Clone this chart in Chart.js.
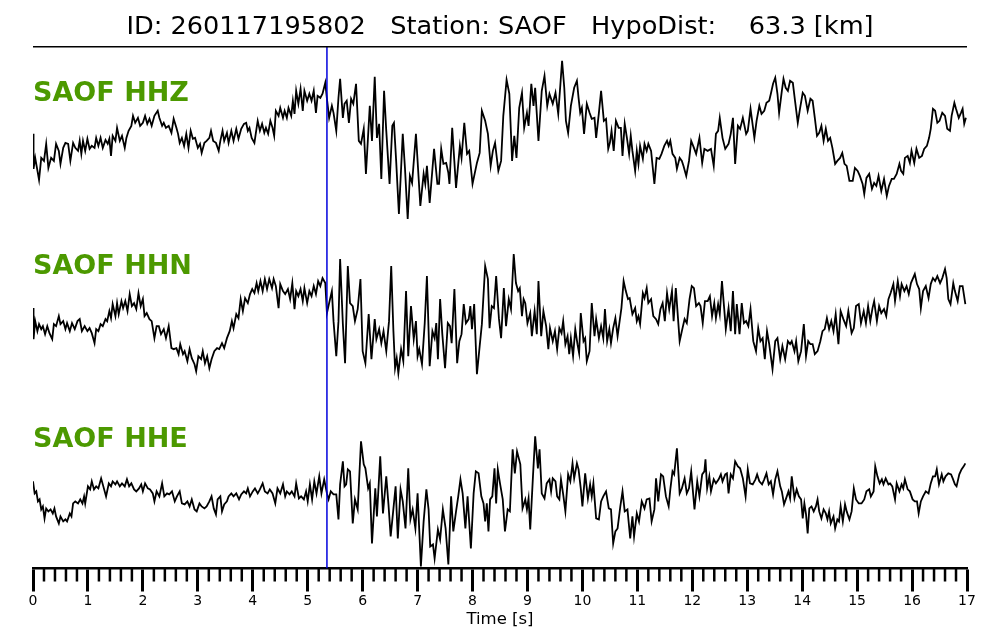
<!DOCTYPE html>
<html lang="en">
<head>
  <meta charset="UTF-8" />
  <title>SAOF waveforms</title>
  <script src="https://cdn.jsdelivr.net/npm/chart.js"></script>
  <style>
    body { margin: 0; background: #fff; }
  </style>
</head>
<body>
  <canvas id="seis" width="1000" height="640"></canvas>

  <script>
    // waveform samples: [time (s), amplitude]
    const hhz = [[0,7],[0.01,-28],[0.04,-17],[0.11,-39],[0.15,-17],[0.2,-20],[0.24,-3],[0.28,-27],[0.33,-17],[0.38,-20],[0.42,-3],[0.47,-10],[0.5,-23],[0.55,-7],[0.59,-2],[0.64,-3],[0.68,-20],[0.73,-2],[0.77,-7],[0.82,-10],[0.85,0],[0.88,-13],[0.91,0],[0.95,-10],[0.99,2],[1.03,-8],[1.07,-5],[1.12,-7],[1.15,3],[1.19,-5],[1.23,3],[1.27,-7],[1.32,1],[1.36,-3],[1.39,2],[1.42,-15],[1.45,5],[1.5,0],[1.53,13],[1.58,0],[1.62,5],[1.67,-7],[1.7,3],[1.74,10],[1.79,15],[1.82,25],[1.86,18],[1.91,23],[1.95,15],[2,18],[2.04,25],[2.08,17],[2.12,22],[2.16,15],[2.21,25],[2.27,30],[2.3,23],[2.35,15],[2.38,18],[2.42,13],[2.47,15],[2.52,8],[2.56,22],[2.61,13],[2.64,7],[2.67,-2],[2.71,3],[2.75,-5],[2.79,7],[2.83,-7],[2.87,10],[2.91,2],[2.95,3],[3,-7],[3.04,-3],[3.07,-12],[3.12,-2],[3.16,0],[3.21,3],[3.24,10],[3.28,0],[3.33,-2],[3.38,-10],[3.41,0],[3.45,10],[3.48,0],[3.53,8],[3.56,-2],[3.61,10],[3.65,0],[3.7,12],[3.74,2],[3.79,12],[3.84,17],[3.88,18],[3.91,10],[3.94,13],[3.98,3],[4.03,-2],[4.07,13],[4.09,20],[4.13,10],[4.17,17],[4.21,8],[4.24,13],[4.28,7],[4.32,20],[4.36,13],[4.39,5],[4.42,30],[4.47,25],[4.5,33],[4.55,23],[4.58,30],[4.62,23],[4.65,33],[4.7,25],[4.73,40],[4.76,27],[4.79,50],[4.83,37],[4.87,52],[4.91,30],[4.94,50],[4.99,40],[5.03,47],[5.07,40],[5.11,50],[5.15,28],[5.18,45],[5.23,43],[5.27,47],[5.32,58],[5.35,42],[5.39,23],[5.44,35],[5.47,28],[5.52,10],[5.56,43],[5.59,62],[5.64,23],[5.67,37],[5.71,40],[5.75,18],[5.79,42],[5.83,37],[5.88,57],[5.93,0],[5.97,-3],[6.02,12],[6.06,-33],[6.13,35],[6.17,0],[6.22,64],[6.26,3],[6.3,17],[6.34,-38],[6.39,50],[6.43,10],[6.49,-43],[6.54,15],[6.57,18],[6.61,-20],[6.66,-73],[6.73,7],[6.77,-27],[6.82,-78],[6.86,-35],[6.9,-42],[6.97,7],[7.05,-65],[7.11,-33],[7.14,-43],[7.17,-25],[7.22,-62],[7.3,-8],[7.36,-43],[7.39,-43],[7.43,-8],[7.47,-23],[7.52,-22],[7.56,-32],[7.58,-43],[7.63,13],[7.7,-47],[7.77,-5],[7.8,-17],[7.85,18],[7.9,-13],[7.94,-10],[8,-43],[8.08,-22],[8.13,-12],[8.17,30],[8.23,20],[8.28,7],[8.33,-25],[8.37,-10],[8.41,-2],[8.47,-30],[8.52,-20],[8.56,25],[8.62,61],[8.67,47],[8.72,-20],[8.76,5],[8.8,-17],[8.85,33],[8.9,48],[8.94,13],[8.99,28],[9.02,15],[9.07,57],[9.11,35],[9.14,53],[9.2,0],[9.26,50],[9.31,65],[9.36,35],[9.4,47],[9.46,37],[9.51,48],[9.56,27],[9.6,57],[9.63,80],[9.67,53],[9.7,20],[9.74,8],[9.79,35],[9.85,53],[9.9,60],[9.93,43],[9.96,28],[9.99,33],[10.03,7],[10.08,37],[10.13,28],[10.17,22],[10.22,23],[10.25,3],[10.3,28],[10.34,50],[10.39,20],[10.43,22],[10.47,-8],[10.5,-2],[10.53,10],[10.57,-10],[10.61,20],[10.66,13],[10.7,13],[10.73,-15],[10.77,17],[10.81,3],[10.85,-13],[10.88,5],[10.91,-10],[10.96,-30],[10.99,-10],[11.02,-23],[11.05,-5],[11.1,-18],[11.13,-3],[11.17,-10],[11.2,-3],[11.25,-10],[11.31,-43],[11.35,-17],[11.4,-18],[11.44,-13],[11.49,-5],[11.54,0],[11.57,-5],[11.6,0],[11.64,-13],[11.69,-17],[11.72,-28],[11.77,-17],[11.81,-20],[11.84,-25],[11.89,-35],[11.94,-20],[11.98,0],[12.03,-7],[12.07,-13],[12.13,3],[12.18,-22],[12.22,-8],[12.28,-10],[12.34,-8],[12.39,-25],[12.43,7],[12.47,10],[12.5,23],[12.55,3],[12.6,-8],[12.66,-3],[12.7,7],[12.74,23],[12.78,-23],[12.83,15],[12.87,12],[12.92,23],[12.98,7],[13.01,10],[13.06,32],[13.13,3],[13.17,20],[13.22,35],[13.26,27],[13.31,30],[13.35,38],[13.4,40],[13.43,47],[13.47,57],[13.51,63],[13.55,47],[13.58,28],[13.63,50],[13.66,62],[13.7,53],[13.74,50],[13.78,60],[13.83,58],[13.87,40],[13.92,18],[13.96,32],[14.01,48],[14.05,45],[14.1,30],[14.15,42],[14.19,40],[14.23,23],[14.27,5],[14.31,8],[14.35,15],[14.39,0],[14.43,12],[14.47,0],[14.51,3],[14.55,-7],[14.6,-23],[14.64,-20],[14.69,-17],[14.73,-12],[14.77,-23],[14.81,-25],[14.86,-40],[14.92,-40],[14.96,-27],[15.01,-30],[15.05,-35],[15.1,-43],[15.13,-53],[15.17,-37],[15.22,-33],[15.27,-48],[15.31,-42],[15.35,-45],[15.39,-35],[15.44,-50],[15.49,-38],[15.54,-55],[15.58,-45],[15.63,-38],[15.67,-38],[15.72,-33],[15.77,-23],[15.8,-30],[15.84,-33],[15.87,-17],[15.92,-15],[15.96,-22],[15.99,-10],[16.04,-22],[16.08,-8],[16.13,-17],[16.18,-15],[16.22,-8],[16.27,-5],[16.31,3],[16.34,12],[16.38,32],[16.42,30],[16.46,18],[16.5,20],[16.55,28],[16.6,25],[16.64,12],[16.69,10],[16.72,25],[16.77,38],[16.8,32],[16.85,23],[16.89,28],[16.92,32],[16.95,17],[16.98,23]];

    const hhn = [[0,6],[0.01,-25],[0.04,-7],[0.08,-17],[0.11,-10],[0.15,-15],[0.18,-12],[0.22,-20],[0.26,-12],[0.3,-19],[0.35,-25],[0.38,-10],[0.42,-12],[0.47,-2],[0.5,-10],[0.55,-7],[0.59,-15],[0.62,-9],[0.67,-17],[0.71,-9],[0.76,-15],[0.81,-7],[0.85,-5],[0.89,-17],[0.94,-12],[0.99,-17],[1.03,-14],[1.07,-19],[1.12,-29],[1.15,-15],[1.19,-17],[1.23,-10],[1.27,-12],[1.32,-5],[1.35,-7],[1.39,3],[1.42,-4],[1.45,10],[1.5,-2],[1.53,11],[1.56,0],[1.61,13],[1.64,6],[1.68,13],[1.72,3],[1.76,20],[1.8,8],[1.84,11],[1.88,5],[1.92,21],[1.96,8],[2,15],[2.03,-2],[2.07,1],[2.12,-5],[2.16,-7],[2.21,-24],[2.25,-12],[2.29,-12],[2.33,-20],[2.38,-15],[2.42,-24],[2.47,-12],[2.52,-34],[2.56,-35],[2.61,-34],[2.65,-40],[2.68,-30],[2.73,-40],[2.76,-37],[2.81,-47],[2.85,-35],[2.89,-44],[2.94,-50],[2.97,-57],[3.01,-42],[3.06,-45],[3.09,-37],[3.13,-49],[3.17,-42],[3.21,-54],[3.25,-45],[3.3,-37],[3.35,-34],[3.39,-35],[3.44,-29],[3.48,-34],[3.53,-24],[3.58,-17],[3.62,-7],[3.65,-14],[3.7,0],[3.74,-4],[3.78,15],[3.82,3],[3.86,16],[3.91,11],[3.95,20],[3.99,25],[4.03,21],[4.07,31],[4.1,23],[4.14,33],[4.18,23],[4.22,35],[4.26,25],[4.3,35],[4.35,26],[4.38,35],[4.42,28],[4.47,6],[4.5,30],[4.55,23],[4.59,20],[4.64,25],[4.68,15],[4.72,31],[4.76,5],[4.79,23],[4.83,18],[4.87,25],[4.91,13],[4.94,26],[4.99,11],[5.03,23],[5.07,18],[5.11,28],[5.15,20],[5.19,33],[5.23,28],[5.27,36],[5.32,31],[5.35,1],[5.39,11],[5.44,23],[5.47,-7],[5.52,-42],[5.56,-7],[5.59,55],[5.64,-10],[5.68,-49],[5.73,48],[5.77,11],[5.82,8],[5.86,-7],[5.91,5],[5.96,35],[6,-37],[6.05,-49],[6.11,0],[6.16,-45],[6.22,-5],[6.25,-25],[6.3,-15],[6.34,-29],[6.38,-17],[6.43,-37],[6.48,-7],[6.52,48],[6.56,-17],[6.59,-54],[6.62,-44],[6.65,-59],[6.7,-35],[6.74,-47],[6.79,23],[6.83,-42],[6.88,8],[6.93,-25],[6.97,-7],[7,-42],[7.03,-35],[7.08,-50],[7.13,-9],[7.17,38],[7.22,-52],[7.27,-17],[7.31,-24],[7.34,-9],[7.37,-45],[7.41,15],[7.45,-20],[7.5,-54],[7.55,-9],[7.59,-12],[7.62,-29],[7.67,25],[7.72,-49],[7.76,-27],[7.8,-20],[7.84,10],[7.88,-9],[7.93,-5],[7.96,8],[7.99,-15],[8.03,10],[8.08,-60],[8.13,-32],[8.17,-10],[8.23,48],[8.28,35],[8.31,-14],[8.35,8],[8.39,6],[8.43,38],[8.48,-4],[8.52,-24],[8.57,26],[8.61,-12],[8.66,15],[8.7,5],[8.75,60],[8.79,31],[8.83,23],[8.86,26],[8.9,-2],[8.93,15],[8.96,11],[9,-9],[9.05,1],[9.08,-22],[9.13,3],[9.17,-20],[9.2,33],[9.25,-22],[9.29,3],[9.34,-12],[9.38,-35],[9.41,-14],[9.46,-27],[9.5,-17],[9.54,-35],[9.58,-14],[9.62,-19],[9.65,-7],[9.69,-30],[9.73,-22],[9.76,-40],[9.79,-24],[9.83,-42],[9.87,-15],[9.91,-30],[9.94,-39],[9.97,1],[10.02,-27],[10.05,-24],[10.08,-47],[10.13,-37],[10.17,11],[10.22,-22],[10.25,-5],[10.3,-24],[10.34,-12],[10.38,-24],[10.41,5],[10.45,-27],[10.49,-15],[10.52,-29],[10.56,-14],[10.6,-4],[10.64,-22],[10.67,-10],[10.71,6],[10.75,33],[10.79,23],[10.83,15],[10.86,16],[10.91,0],[10.96,6],[10.99,-7],[11.02,-2],[11.05,-10],[11.1,21],[11.13,16],[11.17,26],[11.2,11],[11.25,15],[11.29,-2],[11.34,-5],[11.38,-10],[11.42,5],[11.46,11],[11.5,-7],[11.54,21],[11.58,5],[11.63,23],[11.66,-7],[11.7,26],[11.77,-27],[11.81,-17],[11.86,-5],[11.9,-9],[11.95,15],[11.99,28],[12.03,26],[12.07,8],[12.12,11],[12.15,8],[12.19,-9],[12.23,13],[12.28,13],[12.32,18],[12.36,-2],[12.4,11],[12.43,-4],[12.47,10],[12.5,0],[12.54,33],[12.58,6],[12.61,-15],[12.66,6],[12.7,-17],[12.74,23],[12.78,-20],[12.81,10],[12.86,-20],[12.9,11],[12.94,-9],[12.98,-7],[13.02,-12],[13.06,5],[13.11,-27],[13.16,-37],[13.2,-14],[13.24,-27],[13.28,-24],[13.32,-45],[13.36,-17],[13.4,-30],[13.46,-55],[13.51,-27],[13.55,-24],[13.6,-45],[13.64,-32],[13.69,-45],[13.74,-27],[13.78,-30],[13.81,-27],[13.86,-37],[13.89,-27],[13.93,-47],[13.98,-37],[14.03,-10],[14.07,-42],[14.11,-27],[14.15,-30],[14.19,-30],[14.23,-40],[14.28,-37],[14.33,-27],[14.37,-17],[14.41,-15],[14.45,-4],[14.49,-15],[14.53,-7],[14.57,-17],[14.61,0],[14.66,-30],[14.7,3],[14.75,-5],[14.8,-12],[14.84,3],[14.9,-19],[14.94,-14],[14.98,8],[15.03,10],[15.07,-9],[15.12,3],[15.16,-9],[15.2,8],[15.24,-7],[15.28,6],[15.31,13],[15.36,-7],[15.4,8],[15.44,1],[15.49,5],[15.53,-2],[15.57,15],[15.61,21],[15.66,30],[15.69,13],[15.74,33],[15.78,18],[15.81,30],[15.86,23],[15.9,28],[15.94,20],[15.98,31],[16.05,40],[16.09,30],[16.13,25],[16.16,6],[16.2,23],[16.25,28],[16.3,16],[16.34,30],[16.38,36],[16.42,33],[16.46,38],[16.51,31],[16.55,36],[16.6,45],[16.63,36],[16.66,15],[16.7,10],[16.75,31],[16.78,23],[16.83,13],[16.87,28],[16.92,28],[16.97,10]];

    const hhe = [[0,10],[0.03,-2],[0.06,0],[0.09,-10],[0.12,-8],[0.15,-18],[0.18,-15],[0.21,-27],[0.24,-17],[0.28,-20],[0.32,-18],[0.36,-22],[0.39,-17],[0.42,-25],[0.47,-32],[0.5,-25],[0.55,-30],[0.59,-28],[0.62,-30],[0.67,-22],[0.7,-25],[0.73,-12],[0.77,-10],[0.82,-12],[0.86,-8],[0.9,-12],[0.93,-5],[0.95,-12],[1,5],[1.04,2],[1.07,10],[1.11,2],[1.15,5],[1.19,3],[1.24,13],[1.28,5],[1.33,-5],[1.38,8],[1.42,5],[1.45,10],[1.5,7],[1.53,10],[1.58,5],[1.62,8],[1.67,5],[1.71,12],[1.75,5],[1.79,8],[1.84,2],[1.88,0],[1.93,3],[1.97,7],[2,0],[2.04,8],[2.09,3],[2.13,2],[2.18,-2],[2.21,-10],[2.25,0],[2.3,-5],[2.35,8],[2.39,-5],[2.44,-2],[2.48,-3],[2.53,0],[2.58,-10],[2.62,-5],[2.67,0],[2.71,-12],[2.76,-13],[2.81,-10],[2.85,-15],[2.89,-8],[2.94,-18],[2.98,-20],[3.03,-12],[3.07,-15],[3.12,-17],[3.16,-15],[3.21,-10],[3.25,-5],[3.29,-17],[3.33,-23],[3.36,-8],[3.41,-5],[3.44,-20],[3.48,-13],[3.53,-10],[3.56,-5],[3.61,-2],[3.65,-5],[3.7,-2],[3.75,-8],[3.79,-3],[3.84,0],[3.88,-2],[3.91,3],[3.95,-5],[4,0],[4.04,3],[4.09,-2],[4.13,2],[4.18,8],[4.22,0],[4.27,-2],[4.31,2],[4.36,-2],[4.41,-12],[4.45,3],[4.5,-2],[4.55,7],[4.59,-5],[4.62,0],[4.67,-3],[4.71,0],[4.76,-5],[4.79,8],[4.84,-7],[4.88,-5],[4.93,-8],[4.97,0],[5,-10],[5.04,7],[5.08,-8],[5.12,10],[5.16,-2],[5.21,15],[5.25,-2],[5.3,12],[5.35,-2],[5.38,-8],[5.42,0],[5.47,-3],[5.52,-3],[5.56,-28],[5.59,7],[5.64,30],[5.67,5],[5.7,7],[5.73,22],[5.77,20],[5.82,-32],[5.86,-8],[5.91,-18],[5.97,50],[6.02,27],[6.05,23],[6.1,3],[6.13,8],[6.17,-52],[6.23,3],[6.26,-25],[6.32,35],[6.37,-22],[6.43,15],[6.47,-13],[6.51,-45],[6.55,-23],[6.6,5],[6.64,-47],[6.69,2],[6.73,-10],[6.78,-37],[6.83,23],[6.87,-28],[6.91,-18],[6.96,-37],[7,-2],[7.06,-75],[7.11,-30],[7.16,2],[7.2,-18],[7.23,-55],[7.28,-53],[7.31,-67],[7.37,-38],[7.41,-48],[7.46,-18],[7.51,-37],[7.56,-73],[7.61,-5],[7.65,-40],[7.7,-20],[7.74,-5],[7.78,12],[7.82,-2],[7.87,-37],[7.91,-5],[7.97,-57],[8.02,-2],[8.06,20],[8.11,18],[8.16,-5],[8.2,-12],[8.23,-30],[8.26,-12],[8.29,-40],[8.32,-8],[8.36,-5],[8.4,23],[8.43,-12],[8.46,22],[8.5,8],[8.55,-8],[8.59,-40],[8.64,-18],[8.68,-20],[8.73,42],[8.77,18],[8.81,40],[8.87,27],[8.91,-17],[8.96,-8],[8.99,-18],[9.02,-7],[9.05,-38],[9.1,15],[9.14,55],[9.19,23],[9.22,42],[9.26,-2],[9.31,-7],[9.35,8],[9.4,12],[9.43,0],[9.46,13],[9.51,10],[9.54,-5],[9.58,-8],[9.61,12],[9.65,-3],[9.69,-20],[9.74,17],[9.78,10],[9.82,28],[9.85,13],[9.9,28],[9.93,22],[9.97,3],[10,-15],[10.05,18],[10.1,-7],[10.14,7],[10.17,-5],[10.2,8],[10.25,-27],[10.3,-28],[10.34,-10],[10.38,-5],[10.43,0],[10.48,-17],[10.52,-18],[10.56,-52],[10.6,-40],[10.64,-37],[10.69,-15],[10.73,0],[10.77,-20],[10.82,-18],[10.87,-47],[10.91,-25],[10.94,-45],[10.99,-22],[11.03,-30],[11.08,-10],[11.13,-17],[11.17,-8],[11.22,-7],[11.26,-30],[11.31,-18],[11.34,13],[11.38,-10],[11.43,17],[11.47,15],[11.52,-5],[11.57,-15],[11.6,2],[11.64,20],[11.67,17],[11.72,43],[11.77,-2],[11.81,3],[11.86,13],[11.9,-2],[11.94,3],[11.98,20],[12.04,-18],[12.09,10],[12.13,-5],[12.18,17],[12.22,20],[12.24,32],[12.27,3],[12.31,15],[12.34,0],[12.39,12],[12.43,8],[12.48,12],[12.52,17],[12.55,10],[12.6,17],[12.63,18],[12.66,-2],[12.7,17],[12.74,13],[12.78,30],[12.83,25],[12.87,23],[12.92,13],[12.97,-5],[13.01,22],[13.05,8],[13.1,7],[13.15,12],[13.18,17],[13.22,10],[13.27,7],[13.31,12],[13.35,18],[13.39,7],[13.43,10],[13.47,-3],[13.51,12],[13.55,20],[13.6,5],[13.63,0],[13.67,-13],[13.72,-5],[13.75,0],[13.78,-7],[13.81,15],[13.86,-7],[13.9,2],[13.94,-5],[13.98,-8],[14.01,-27],[14.04,-12],[14.07,-23],[14.1,-42],[14.13,-17],[14.17,-15],[14.21,-20],[14.25,-15],[14.28,-8],[14.31,-20],[14.35,-27],[14.39,-18],[14.43,-22],[14.46,-28],[14.49,-20],[14.52,-32],[14.57,-25],[14.6,-37],[14.64,-28],[14.67,-30],[14.7,-15],[14.74,-30],[14.78,-13],[14.81,-20],[14.86,-28],[14.9,-20],[14.94,3],[14.98,-8],[15.03,-12],[15.08,-12],[15.13,-8],[15.17,0],[15.22,2],[15.25,-5],[15.3,0],[15.33,25],[15.37,15],[15.41,8],[15.45,12],[15.48,7],[15.52,13],[15.57,7],[15.6,8],[15.64,5],[15.69,-8],[15.72,8],[15.77,0],[15.81,7],[15.84,3],[15.87,12],[15.92,2],[15.96,0],[16.01,-8],[16.05,-10],[16.09,-10],[16.12,-22],[16.16,-10],[16.2,-5],[16.25,0],[16.3,-2],[16.34,8],[16.38,15],[16.42,15],[16.45,22],[16.49,7],[16.54,17],[16.57,10],[16.61,15],[16.66,18],[16.71,17],[16.74,13],[16.78,7],[16.81,5],[16.86,17],[16.9,22],[16.94,25],[16.97,28]];

    const channels = ['SAOF HHZ', 'SAOF HHN', 'SAOF HHE'];
    const traces = [hhz, hhn, hhe];
    const traceOffsets = [0, -173, -350];   // vertical shift of each trace
    const labelLift = [40, 40, 44];          // label baseline above its trace
    const pickTime = 5.35;                   // P pick (s)
    const tMax = 17;
    const yMin = -427, yMax = 94;
    const titleText = 'ID: 260117195802   Station: SAOF   HypoDist:    63.3 [km]';

    const datasets = [{
      label: 'pick',
      data: [{ x: pickTime, y: yMax }, { x: pickTime, y: yMin }],
      borderColor: '#0000dd',
      borderWidth: 1.5
    }];
    traces.forEach((tr, k) => {
      datasets.push({
        label: channels[k],
        data: tr.map(p => ({ x: p[0], y: p[1] + traceOffsets[k] })),
        borderColor: '#000',
        borderWidth: 1.8
      });
    });

    // top rule, minor ticks and channel names
    const extras = {
      id: 'extras',
      afterDraw(chart) {
        const { ctx, chartArea, scales } = chart;
        ctx.save();
        ctx.strokeStyle = '#000';
        ctx.lineWidth = 1.5;
        ctx.beginPath();
        ctx.moveTo(chartArea.left, chartArea.top);
        ctx.lineTo(chartArea.right, chartArea.top);
        ctx.stroke();

        ctx.lineWidth = 2.5;
        ctx.beginPath();
        for (let i = 1; i < tMax * 5; i++) {
          if (i % 5 === 0) continue;
          const px = scales.x.getPixelForValue(i / 5);
          ctx.moveTo(px, chartArea.bottom);
          ctx.lineTo(px, chartArea.bottom + 13);
        }
        ctx.stroke();

        ctx.fillStyle = '#4c9900';
        ctx.font = 'bold 27px "DejaVu Sans"';
        ctx.textBaseline = 'alphabetic';
        channels.forEach((c, k) => {
          ctx.fillText(c, chartArea.left, scales.y.getPixelForValue(traceOffsets[k] + labelLift[k]));
        });
        ctx.restore();
      }
    };

    new Chart(document.getElementById('seis'), {
      type: 'line',
      data: { datasets: datasets },
      plugins: [extras],
      options: {
        responsive: false,
        animation: false,
        layout: { padding: { left: 33, right: 33, top: 0, bottom: 3 } },
        elements: { point: { radius: 0 }, line: { tension: 0 } },
        plugins: {
          legend: { display: false },
          tooltip: { enabled: false },
          title: {
            display: true,
            text: titleText,
            color: '#000',
            font: { family: 'DejaVu Sans', size: 25.6, weight: 'normal' },
            padding: { top: 12, bottom: 4 }
          }
        },
        scales: {
          x: {
            type: 'linear',
            min: 0,
            max: tMax,
            ticks: {
              stepSize: 1,
              autoSkip: false,
              maxRotation: 0,
              padding: 3,
              color: '#000',
              font: { family: 'DejaVu Sans', size: 14, lineHeight: 1 }
            },
            grid: {
              drawOnChartArea: false,
              drawTicks: true,
              tickLength: 23,
              tickWidth: 3,
              tickColor: '#000'
            },
            border: { display: true, color: '#000', width: 2.5 },
            title: {
              display: true,
              text: 'Time [s]',
              color: '#000',
              font: { family: 'DejaVu Sans', size: 16.5, lineHeight: 1 },
              padding: { top: 0, bottom: 9 }
            }
          },
          y: { display: false, min: yMin, max: yMax }
        }
      }
    });
  </script>
</body>
</html>
